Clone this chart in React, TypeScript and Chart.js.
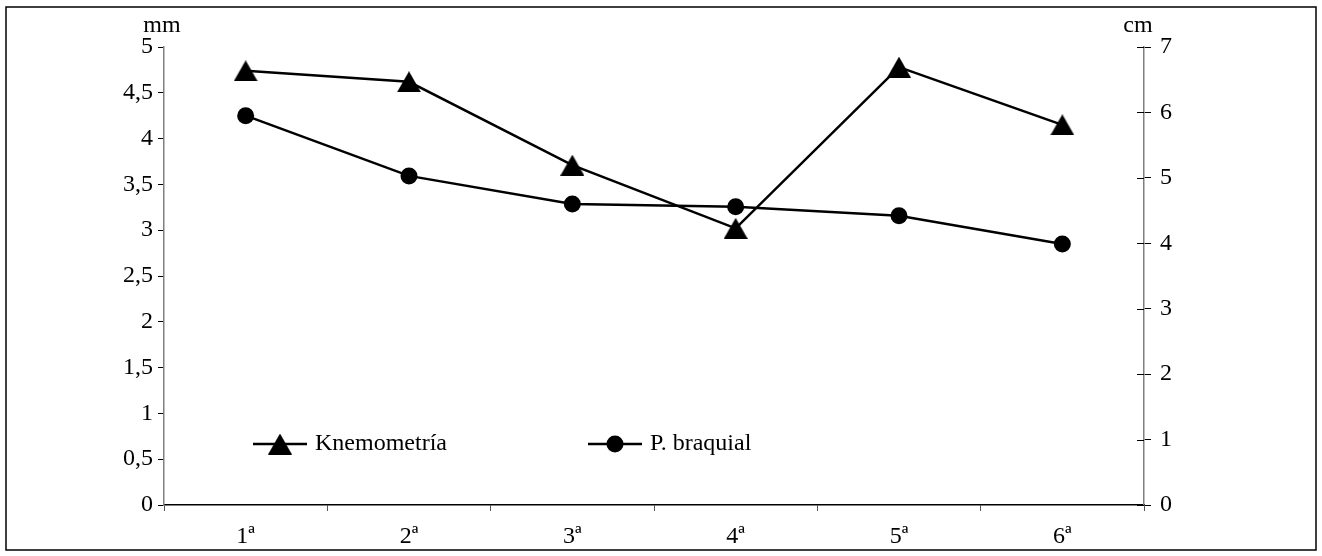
import React, { useEffect, useRef } from "react";
import { Chart, registerables } from "chart.js";

Chart.register(...registerables);

const categories = ["1ª", "2ª", "3ª", "4ª", "5ª", "6ª"];
const knemometria = [4.74, 4.62, 3.71, 3.02, 4.78, 4.15];
const braquial = [5.95, 5.03, 4.6, 4.56, 4.42, 3.99];
const seriesNames = ["Knemometría", "P. braquial"];
const leftUnit = "mm";
const rightUnit = "cm";

const FONT = "'Liberation Serif', 'Times New Roman', serif";
const FSIZE = 24;

function makeTriangle(w: number, h: number): HTMLCanvasElement {
  const c = document.createElement("canvas");
  c.width = w;
  c.height = h;
  const ctx = c.getContext("2d")!;
  ctx.fillStyle = "#000";
  ctx.beginPath();
  ctx.moveTo(w / 2, 0);
  ctx.lineTo(w, h);
  ctx.lineTo(0, h);
  ctx.closePath();
  ctx.fill();
  return c;
}

export default function App() {
  const ref = useRef<HTMLCanvasElement | null>(null);

  useEffect(() => {
    document.body.style.margin = "0";
    const canvas = ref.current!;
    const tri = makeTriangle(24, 21);

    const decor = {
      id: "decor",
      afterDraw(chart: any) {
        const ctx = chart.ctx;
        const ca = chart.chartArea;
        ctx.save();
        // outer border
        ctx.strokeStyle = "#000";
        ctx.lineWidth = 1.5;
        ctx.strokeRect(6, 7, 1310, 543);
        // inner ticks on right axis
        const y1 = chart.scales.y1;
        ctx.strokeStyle = "#000";
        ctx.lineWidth = 1;
        y1.ticks.forEach((t: any, i: number) => {
          const py = Math.round(y1.getPixelForTick(i)) + 0.5;
          ctx.beginPath();
          ctx.moveTo(ca.right - 7, py);
          ctx.lineTo(ca.right, py);
          ctx.stroke();
        });
        // axis unit titles
        ctx.fillStyle = "#000";
        ctx.font = `${FSIZE}px ${FONT}`;
        ctx.textAlign = "center";
        ctx.textBaseline = "middle";
        ctx.fillText(leftUnit, ca.left - 2, ca.top - 21);
        ctx.fillText(rightUnit, ca.right - 6, ca.top - 21);
        // legend
        const ly = ca.top + 397;
        const items = [
          { x: 253, name: seriesNames[0], tri: true },
          { x: 588, name: seriesNames[1], tri: false },
        ];
        ctx.font = `${FSIZE}px ${FONT}`;
        ctx.textAlign = "left";
        items.forEach((it) => {
          ctx.lineWidth = 2.5;
          ctx.beginPath();
          ctx.moveTo(it.x, ly);
          ctx.lineTo(it.x + 54, ly);
          ctx.stroke();
          if (it.tri) {
            ctx.drawImage(tri, it.x + 27 - 12, ly - 10.5);
          } else {
            ctx.beginPath();
            ctx.arc(it.x + 27, ly, 8.5, 0, Math.PI * 2);
            ctx.fill();
          }
          ctx.fillText(it.name, it.x + 62, ly);
        });
        ctx.restore();
      },
    };

    const chart = new Chart(canvas, {
      type: "line",
      data: {
        labels: categories,
        datasets: [
          {
            label: seriesNames[0],
            data: knemometria,
            yAxisID: "y",
            borderColor: "#000",
            backgroundColor: "#000",
            borderWidth: 2.5,
            pointStyle: tri as any,
            pointRadius: 12,
            tension: 0,
          },
          {
            label: seriesNames[1],
            data: braquial,
            yAxisID: "y1",
            borderColor: "#000",
            backgroundColor: "#000",
            borderWidth: 2.5,
            pointStyle: "circle",
            pointRadius: 8.5,
            pointBorderWidth: 0,
            tension: 0,
          },
        ],
      },
      options: {
        animation: false,
        responsive: false,
        devicePixelRatio: 1,
        layout: { padding: { top: 47, left: 0, right: 0, bottom: 0 } },
        plugins: {
          legend: { display: false },
          tooltip: { enabled: false },
        },
        font: { family: FONT, size: FSIZE },
        scales: {
          x: {
            offset: true,
            grid: {
              offset: true,
              drawOnChartArea: false,
              tickLength: 6,
              color: "#555",
            },
            border: { color: "#000", width: 1.5 },
            ticks: {
              color: "#000",
              padding: 11,
              font: { family: FONT, size: FSIZE },
            },
            afterFit(scale: any) {
              scale.height = 51;
            },
          },
          y: {
            position: "left",
            min: 0,
            max: 5,
            grid: { drawOnChartArea: false, tickLength: 6, color: "#000" },
            border: { color: "#808080", width: 1.5 },
            ticks: {
              stepSize: 0.5,
              color: "#000",
              padding: 5,
              font: { family: FONT, size: FSIZE },
              callback: (v: any) => String(v).replace(".", ","),
            },
            afterFit(scale: any) {
              scale.width = 164;
            },
          },
          y1: {
            position: "right",
            min: 0,
            max: 7,
            grid: { drawOnChartArea: false, tickLength: 7, color: "#000" },
            border: { color: "#808080", width: 1.5 },
            ticks: {
              stepSize: 1,
              color: "#000",
              padding: 9,
              font: { family: FONT, size: FSIZE },
            },
            afterFit(scale: any) {
              scale.width = 178;
            },
          },
        },
      },
      plugins: [decor],
    });
    return () => chart.destroy();
  }, []);

  return (
    <div style={{ width: 1322, height: 556, background: "#fff" }}>
      <canvas ref={ref} width={1322} height={556} style={{ display: "block" }} />
    </div>
  );
}
